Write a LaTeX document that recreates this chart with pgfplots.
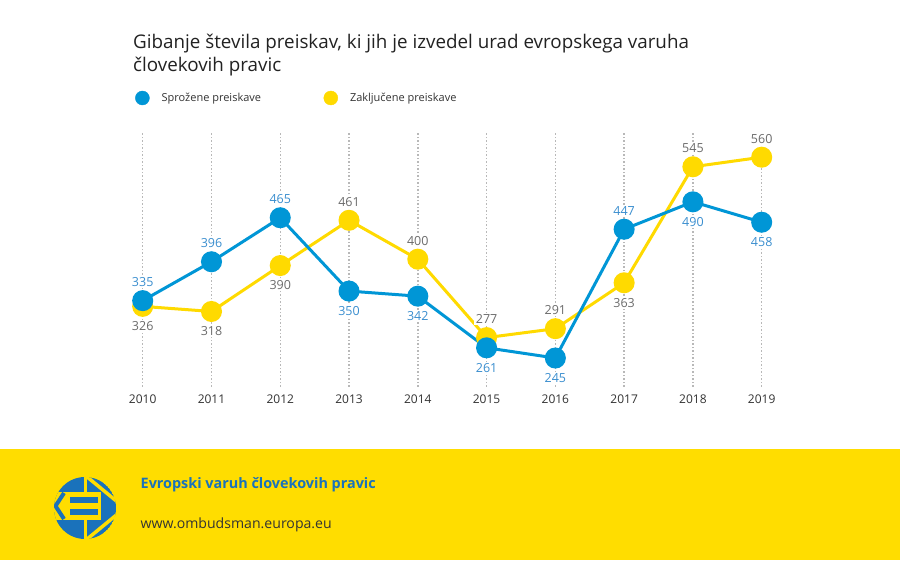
\documentclass[border=0pt]{standalone}
\usepackage{pgfplots}
\pgfplotsset{compat=1.18}
\usepackage{fontspec}
\setmainfont{Open Sans}

\definecolor{sblue}{HTML}{0096D6}
\definecolor{syellow}{HTML}{FFDA00}
\definecolor{lblue}{HTML}{3A8ECF}
\definecolor{lgray}{HTML}{6B6B6B}
\definecolor{band}{HTML}{FFDD00}
\definecolor{logoblue}{HTML}{1A72BB}
\definecolor{titlec}{HTML}{222222}
\definecolor{tickc}{HTML}{333333}

\tikzset{value label/.style={inner sep=1.5pt, fill=white, font=\fontsize{12.5}{14}\selectfont}}

\begin{document}
\begin{tikzpicture}[x=1pt,y=1pt]
% canvas and footer band
\fill[white] (0,0) rectangle (900,560);
\fill[band] (0,0) rectangle (900,111);

% title
\node[anchor=base west, inner sep=0, font=\fontsize{18.8}{23}\selectfont, text=titlec]
  at (133,511) {Gibanje števila preiskav, ki jih je izvedel urad evropskega varuha};
\node[anchor=base west, inner sep=0, font=\fontsize{18.8}{23}\selectfont, text=titlec]
  at (133,488) {človekovih pravic};

% footer logo (drawn top-down in pixel-like units)
\begin{scope}[shift={(0pt,560pt)}, y={(0pt,-1pt)}]
  \begin{scope}
    \clip (85,508) circle (31);
    \fill[logoblue] (85,508) circle (31);
    \fill[band] (50,492) rectangle (101,519.5);
    \draw[band, line width=3pt] (85,470) -- (85,492) (85,519) -- (85,546);
    \draw[band, line width=3.5pt] (86,476) -- (120,504) (86,540) -- (120,512);
    \fill[logoblue] (70,497) rectangle (98,503);
    \fill[logoblue] (70,508.5) rectangle (98,514.5);
    \draw[logoblue, line width=4pt] (64,493) -- (55.5,506) -- (64,519);
  \end{scope}
\end{scope}

% footer texts
\node[anchor=base west, inner sep=0, font=\bfseries\fontsize{14.4}{16}\selectfont, text=logoblue]
  at (140.5,71.5) {Evropski varuh človekovih pravic};
\node[anchor=base west, inner sep=0, font=\fontsize{14.1}{16}\selectfont, text=tickc]
  at (140.5,31.5) {www.ombudsman.europa.eu};

\begin{axis}[
  at={(142.7pt,173.3pt)}, anchor=south west,
  scale only axis, width=619pt, height=255pt,
  xmin=2010, xmax=2019, ymin=200, ymax=600,
  xtick={2010,2011,2012,2013,2014,2015,2016,2017,2018,2019},
  xticklabels={2010,2011,2012,2013,2014,2015,2016,2017,2018,2019},
  ytick=\empty,
  axis line style={draw=none},
  major tick length=0pt,
  xticklabel style={font=\fontsize{12}{14}\selectfont, text=tickc, inner sep=0pt, anchor=north, yshift=-8pt},
  xmajorgrids,
  major grid style={color=black!28, line width=1.5pt, dash pattern=on 1.5pt off 2pt},
  clip=false,
  /pgf/number format/assume math mode=true,
  legend style={draw=none, fill=none, inner sep=0pt,
    at={(axis description cs:0,1)}, anchor=west, xshift=-7.7pt, yshift=33.7pt,
    font=\fontsize{11}{13}\selectfont, text=tickc,
    cells={anchor=west, inner sep=0pt},
    /tikz/every odd column/.append style={column sep=10pt}},
  legend columns=2,
]
% legend entries
\addlegendimage{legend image code/.code={\fill[sblue] (0pt,0pt) circle (7pt);}}
\addlegendentry{\makebox[160pt][l]{Sprožene preiskave}}
\addlegendimage{legend image code/.code={\fill[syellow] (0pt,0pt) circle (7pt);}}
\addlegendentry{Zaključene preiskave}

% Zaključene preiskave
\addplot[forget plot, color=syellow, line width=3pt, mark=*, mark size=9pt,
  mark options={draw=none, fill=syellow}] coordinates {
  (2010,326) (2011,318) (2012,390) (2013,461) (2014,400)
  (2015,277) (2016,291) (2017,363) (2018,545) (2019,560)};
% Sprožene preiskave
\addplot[forget plot, color=sblue, line width=3pt, mark=*, mark size=9pt,
  mark options={draw=none, fill=sblue}] coordinates {
  (2010,335) (2011,396) (2012,465) (2013,350) (2014,342)
  (2015,261) (2016,245) (2017,447) (2018,490) (2019,458)};

% value labels
\addplot[forget plot, draw=none, mark=none, nodes near coords,
  every node near coord/.append style={value label, anchor=south, yshift=12pt, text=lgray}] coordinates {
  (2013,461) (2014,400) (2015,277) (2016,291) (2018,545) (2019,560)};
\addplot[forget plot, draw=none, mark=none, nodes near coords,
  every node near coord/.append style={value label, anchor=north, yshift=-13.5pt, text=lgray}] coordinates {
  (2010,326) (2011,318) (2012,390) (2017,363)};
\addplot[forget plot, draw=none, mark=none, nodes near coords,
  every node near coord/.append style={value label, anchor=south, yshift=12pt, text=lblue}] coordinates {
  (2010,335) (2011,396) (2012,465) (2017,447)};
\addplot[forget plot, draw=none, mark=none, nodes near coords,
  every node near coord/.append style={value label, anchor=north, yshift=-13.5pt, text=lblue}] coordinates {
  (2013,350) (2014,342) (2015,261) (2016,245) (2018,490) (2019,458)};
\end{axis}

\pgfresetboundingbox
\useasboundingbox (0,0) rectangle (900,560);
\end{tikzpicture}
\end{document}
